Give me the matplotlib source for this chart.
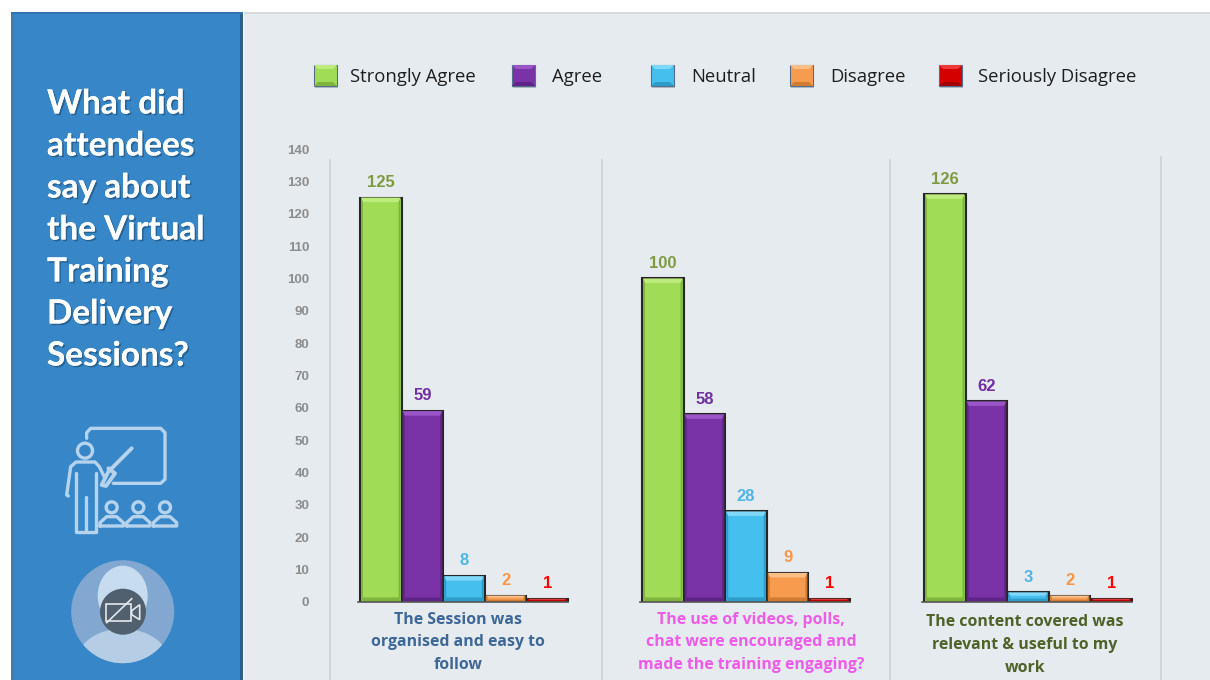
#!/usr/bin/env python3
"""Attendee feedback chart: side panel, legend and three groups of bevelled bars."""

import matplotlib
matplotlib.use("Agg")
import matplotlib.pyplot as plt
import matplotlib.patheffects as pe
from matplotlib.patches import Circle, Ellipse, Polygon, Rectangle

title_lines = ["What did", "attendees", "say about", "the Virtual", "Training", "Delivery", "Sessions?"]
responses = ["Strongly Agree", "Agree", "Neutral", "Disagree", "Seriously Disagree"]
questions = [
    "The Session was\norganised and easy to\nfollow",
    "The use of videos, polls,\nchat were encouraged and\nmade the training engaging?",
    "The content covered was\nrelevant & useful to my\nwork",
]
session_values = [125, 59, 8, 2, 1]
videos_values = [100, 58, 28, 9, 1]
content_values = [126, 62, 3, 2, 1]
y_ticks = list(range(0, 150, 10))

W, H = 1210, 680
BG = "#e6ebef"
FILL = ["#a0dc55", "#7a33a6", "#45bfee", "#f79b4f", "#d40000"]
LIGHT = ["#bdec7c", "#9a55c8", "#7fd8f8", "#fbbf86", "#f03a3a"]
DARK = ["#7fb53e", "#5f2488", "#2f9bc8", "#d07a32", "#a00000"]
LABEL = ["#7f9b3f", "#7030a0", "#4fb5e5", "#f79646", "#ff0000"]
QUESTION = ["#3d6796", "#ee5be8", "#4f6228"]
BAR_PX = 41.6
GROUP_LEFT = [360, 642, 924]
QUESTION_X = [458, 751, 1025]
QUESTION_Y = [619.5, 619.5, 622.5]


def px_axes(fig):
    """Full figure axes that works in reference pixels."""
    ov = fig.add_axes([0, 0, 1, 1], zorder=0)
    ov.set_xlim(0, W)
    ov.set_ylim(H, 0)
    ov.axis("off")
    return ov


def draw_panel(ov):
    ov.add_patch(Rectangle((0, 0), W, H, fc=BG, ec="none"))
    ov.add_patch(Rectangle((0, 0), 244, H, fc="white", ec="none"))
    ov.add_patch(Rectangle((0, 0), W, 12, fc="white", ec="none"))
    ov.add_patch(Rectangle((244, 12), W, 2, fc="#d9d9d9", ec="none"))
    ov.add_patch(Rectangle((11, 12), 232, H, fc="#3787c8", ec="none"))
    ov.add_patch(Rectangle((11, 12), 3, H, fc="#4a7ba6", ec="none"))
    ov.add_patch(Rectangle((240, 12), 3, H, fc="#2c5f8a", ec="none"))
    ov.add_patch(Rectangle((11, 12), 232, 2, fc="#2f76b0", ec="none"))
    shadow = [pe.withSimplePatchShadow(offset=(1.2, -1.2), shadow_rgbFace="#1d4a70", alpha=0.6), pe.Normal()]
    for i, line in enumerate(title_lines):
        ov.text(47, 104 + 42 * i, line, color="white", fontsize=24, fontweight="bold",
                family="Lato", va="center", ha="left", path_effects=shadow)


def draw_trainer(ov):
    c = "#b5d3ec"

    def z(x, y):
        return x / 3, 400 + y / 3

    def line(points, lw=2.4):
        xs, ys = zip(*[z(*p) for p in points])
        ov.plot(xs, ys, color=c, lw=lw, solid_capstyle="round", solid_joinstyle="round")

    line([(260, 115), (260, 98), (272, 85), (482, 85), (495, 98), (495, 238), (482, 250), (340, 250)])
    line([(395, 145), (340, 200), (325, 215), (305, 255), (318, 258), (345, 220), (325, 205)], lw=2.8)
    ov.add_patch(Circle(z(255, 152), 7.5, fc="none", ec=c, lw=2.4))
    line([(205, 288), (200, 285), (212, 200), (228, 186), (285, 186), (298, 200), (315, 235)])
    line([(228, 220), (228, 395), (288, 395), (288, 220)])
    line([(258, 290), (258, 395)])
    for x in (335, 415, 495):
        ov.add_patch(Circle(z(x, 322), 5.5, fc="none", ec=c, lw=2.4))
        line([(x - 35, 378), (x - 35, 368), (x - 15, 350), (x + 15, 350), (x + 35, 368), (x + 35, 378), (x - 35, 378)])


def draw_avatar(ov):
    cx, cy = 122.7, 611.7
    disc = Circle((cx, cy), 51.5, fc="#82a8d2", ec="none")
    ov.add_patch(disc)
    body = Ellipse((cx, cy + 50), 92, 66, fc="#b5cee6", ec="none")
    ov.add_patch(body)
    body.set_clip_path(disc)
    ov.add_patch(Ellipse((cx, cy - 16), 50, 60, fc="#c8dcef", ec="none"))
    ov.add_patch(Circle((cx + 0.3, cy), 23, fc="#50606e", ec="none"))
    cam = "#e4e8ec"
    ov.add_patch(Rectangle((cx - 16.5, cy - 8), 25, 17, fc="none", ec=cam, lw=1.2))
    ov.add_patch(Polygon([(cx + 9, cy - 1), (cx + 17, cy - 7), (cx + 17, cy + 8), (cx + 9, cy + 3)],
                         fc="none", ec=cam, lw=1.2))
    ov.plot([cx - 16, cx + 9], [cy + 11, cy - 13], color=cam, lw=1.2)


def draw_legend(ov):
    marks = [314, 512, 651, 790, 939]
    texts = [350, 552, 691, 830, 978]
    for i, name in enumerate(responses):
        x0 = marks[i]
        ov.add_patch(Rectangle((x0 + 1, 67), 23, 21, fc="#b4bcc4", ec="none"))
        ov.add_patch(Rectangle((x0, 65), 23, 21, fc=FILL[i], ec="#54708e", lw=0.8))
        ov.add_patch(Polygon([(x0, 65), (x0 + 23, 65), (x0 + 19, 69), (x0 + 4, 69)], fc=LIGHT[i], ec="none"))
        ov.add_patch(Polygon([(x0, 86), (x0 + 23, 86), (x0 + 19, 82), (x0 + 4, 82)], fc=DARK[i], ec="none"))
        ov.text(texts[i], 77.5, name, fontsize=13.3, family="Open Sans", color="#1e1e1e", va="center", ha="left")


def draw_dividers(ov):
    for x, top in zip([330, 602, 890, 1161], [160, 160, 160, 157]):
        ov.plot([x, x], [top, H], color="#cfd3d7", lw=1.3)


def draw_bars(ax, left, values):
    xs = [left + BAR_PX * (i + 0.5) for i in range(len(values))]
    bars = ax.bar(xs, values, width=BAR_PX, color=FILL, edgecolor="#262626", linewidth=1.5, zorder=2)
    for i, bar in enumerate(bars):
        x0, val = bar.get_x(), bar.get_height()
        inset_x = 3.0
        inset_y = min(1.4, val * 0.35)
        ax.add_patch(Polygon([(x0 + 1, val), (x0 + BAR_PX - 1, val), (x0 + BAR_PX - inset_x, val - inset_y),
                              (x0 + inset_x, val - inset_y)], fc=LIGHT[i], ec="none", zorder=3))
        ax.add_patch(Polygon([(x0 + 1, 0), (x0 + inset_x, inset_y), (x0 + inset_x, val - inset_y), (x0 + 1, val)],
                             fc=DARK[i], ec="none", zorder=3))
        ax.add_patch(Polygon([(x0 + BAR_PX - 1, 0), (x0 + BAR_PX - inset_x, inset_y),
                              (x0 + BAR_PX - inset_x, val - inset_y), (x0 + BAR_PX - 1, val)],
                             fc=DARK[i], ec="none", zorder=3))
        ax.add_patch(Polygon([(x0 + 1, 0), (x0 + BAR_PX - 1, 0), (x0 + BAR_PX - inset_x, inset_y),
                              (x0 + inset_x, inset_y)], fc=DARK[i], ec="none", zorder=3))
        ax.annotate(str(val), (bar.get_x() + BAR_PX / 2, val), xytext=(0, 11), textcoords="offset points",
                    ha="center", va="center", color=LABEL[i], fontsize=12, fontweight="bold",
                    family="Liberation Sans", zorder=4)
    ax.plot([left - 2, left + BAR_PX * len(values)], [0, 0], color="#555555", lw=1.2, zorder=5, clip_on=False)


def main():
    fig = plt.figure(figsize=(W / 100, H / 100), dpi=100)
    ov = px_axes(fig)
    draw_panel(ov)
    draw_trainer(ov)
    draw_avatar(ov)
    draw_legend(ov)
    draw_dividers(ov)

    # chart axes spans x=330..1161 px, y=149..602 px
    ax = fig.add_axes([330 / W, (H - 602) / H, (1161 - 330) / W, (602 - 149) / H], zorder=1)
    ax.patch.set_alpha(0)
    ax.set_xlim(330, 1161)
    ax.set_ylim(0, 140)
    for spine in ax.spines.values():
        spine.set_visible(False)
    ax.set_xticks([])
    ax.set_yticks(y_ticks)
    ax.tick_params(axis="y", length=0, pad=15, labelsize=9.5, labelcolor="#8c8c8c")
    for lab in ax.get_yticklabels():
        lab.set_fontweight("bold")
        lab.set_family("Liberation Sans")

    for left, values in zip(GROUP_LEFT, [session_values, videos_values, content_values]):
        draw_bars(ax, left, values)

    for i, text in enumerate(questions):
        for j, line in enumerate(text.split("\n")):
            ov.text(QUESTION_X[i], QUESTION_Y[i] + j * 22.6, line, color=QUESTION[i], fontsize=11.4,
                    fontweight="bold", family="Open Sans", ha="center", va="center")

    fig.savefig("out.png", dpi=100)
    plt.close(fig)


if __name__ == "__main__":
    main()
